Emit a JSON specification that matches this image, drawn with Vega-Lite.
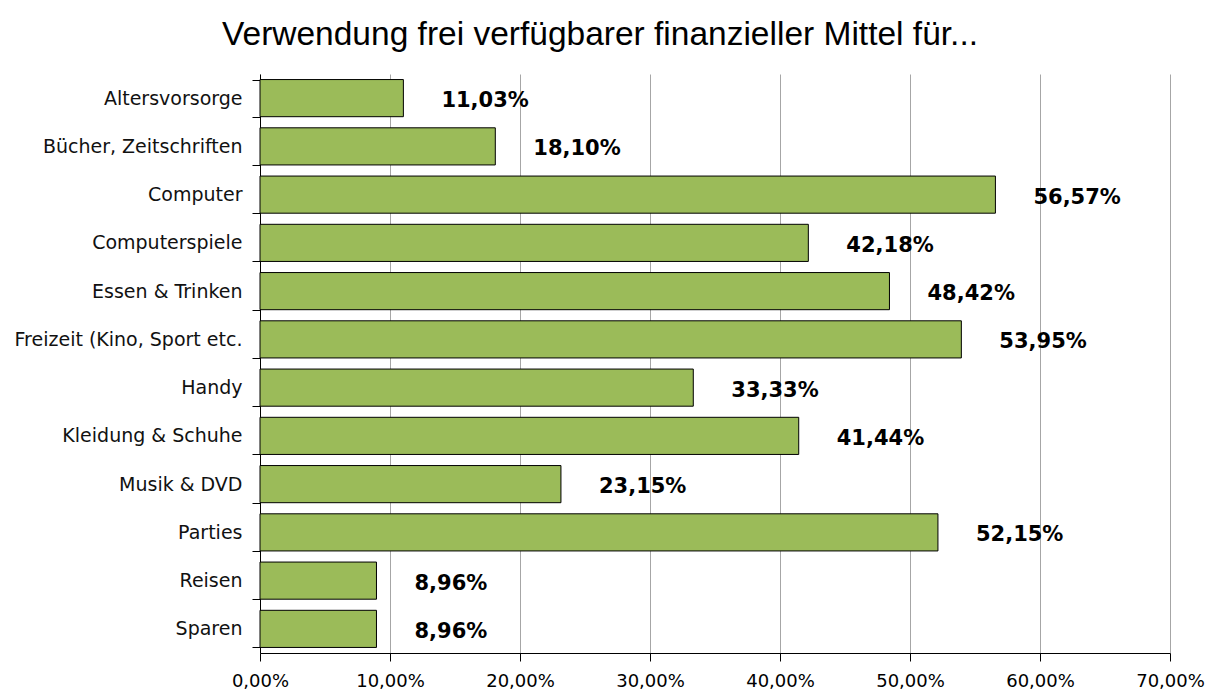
{
  "$schema": "https://vega.github.io/schema/vega-lite/v6.json",
  "width": 910,
  "height": 579,
  "autosize": {"type": "none"},
  "padding": {"left": 260, "top": 74, "right": 36, "bottom": 39},
  "background": "white",
  "title": {
    "text": "Verwendung frei verfügbarer finanzieller Mittel für...",
    "font": "Liberation Sans",
    "fontSize": 33.5,
    "fontWeight": "normal",
    "color": "#000000",
    "anchor": "middle",
    "dx": -115,
    "offset": 13
  },
  "config": {
    "view": {"stroke": null},
    "locale": {"number": {"decimal": ",", "thousands": ".", "grouping": [3], "currency": ["", " €"]}}
  },
  "data": {
    "values": [
      {"kategorie": "Altersvorsorge", "anteil": 0.1103},
      {"kategorie": "Bücher, Zeitschriften", "anteil": 0.1810},
      {"kategorie": "Computer", "anteil": 0.5657},
      {"kategorie": "Computerspiele", "anteil": 0.4218},
      {"kategorie": "Essen & Trinken", "anteil": 0.4842},
      {"kategorie": "Freizeit (Kino, Sport etc.", "anteil": 0.5395},
      {"kategorie": "Handy", "anteil": 0.3333},
      {"kategorie": "Kleidung & Schuhe", "anteil": 0.4144},
      {"kategorie": "Musik & DVD", "anteil": 0.2315},
      {"kategorie": "Parties", "anteil": 0.5215},
      {"kategorie": "Reisen", "anteil": 0.0896},
      {"kategorie": "Sparen", "anteil": 0.0896}
    ]
  },
  "encoding": {
    "y": {
      "field": "kategorie",
      "type": "nominal",
      "sort": null,
      "scale": {"paddingInner": 0.23, "paddingOuter": 0.115},
      "axis": {
        "title": null,
        "tickBand": "extent",
        "tickSize": 8,
        "tickColor": "#000000",
        "domainColor": "#000000",
        "labelFont": "DejaVu Sans",
        "labelFontSize": 19,
        "labelColor": "#111111",
        "labelPadding": 10,
        "labelLimit": 0,
        "labelBaseline": "middle",
        "grid": false
      }
    },
    "x": {
      "field": "anteil",
      "type": "quantitative",
      "scale": {"domain": [0, 0.7], "nice": false},
      "axis": {
        "title": null,
        "values": [0, 0.1, 0.2, 0.3, 0.4, 0.5, 0.6, 0.7],
        "format": ".2%",
        "grid": true,
        "gridColor": "#a6a6a6",
        "gridWidth": 1,
        "tickSize": 8,
        "tickColor": "#000000",
        "domainColor": "#000000",
        "labelFont": "DejaVu Sans",
        "labelFontSize": 18,
        "labelColor": "#000000",
        "labelPadding": 11,
        "labelFlush": false
      }
    }
  },
  "layer": [
    {
      "mark": {"type": "bar", "fill": "#9bbb59", "stroke": "#000000", "strokeWidth": 1}
    },
    {
      "mark": {
        "type": "text",
        "align": "left",
        "baseline": "middle",
        "dx": 38,
        "dy": 3,
        "font": "DejaVu Sans",
        "fontWeight": "bold",
        "fontSize": 21,
        "color": "#000000"
      },
      "encoding": {
        "text": {"field": "anteil", "type": "quantitative", "format": ".2%"}
      }
    }
  ]
}
